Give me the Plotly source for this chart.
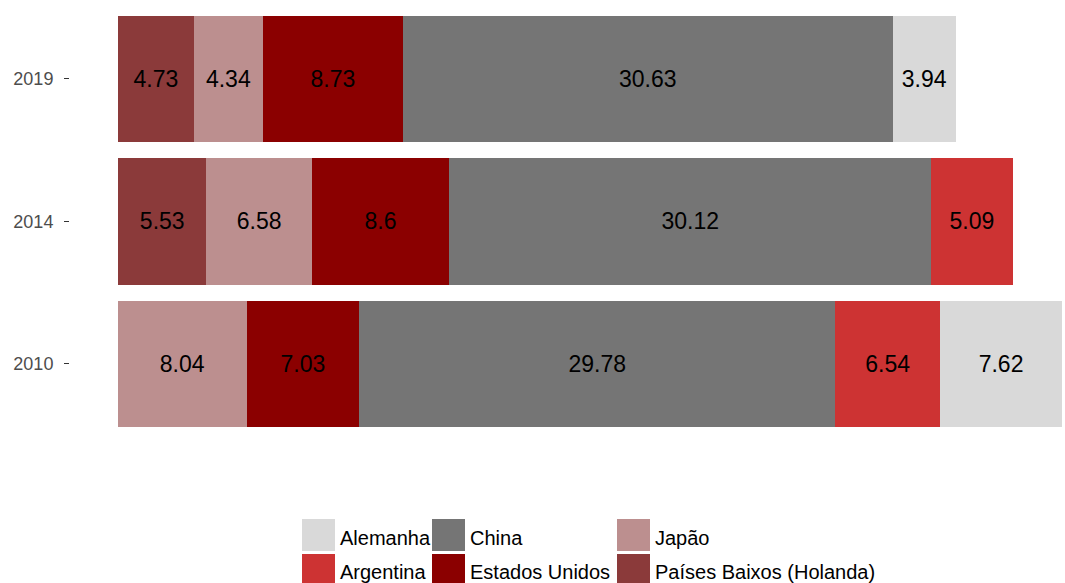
import plotly.graph_objects as go

years = ["2010", "2014", "2019"]
countries = ["Países Baixos (Holanda)", "Japão", "Estados Unidos", "China", "Argentina", "Alemanha"]
values = {
    "Países Baixos (Holanda)": [None, 5.53, 4.73],
    "Japão": [8.04, 6.58, 4.34],
    "Estados Unidos": [7.03, 8.6, 8.73],
    "China": [29.78, 30.12, 30.63],
    "Argentina": [6.54, 5.09, None],
    "Alemanha": [7.62, None, 3.94],
}
colors = {
    "Alemanha": "#d9d9d9",
    "Argentina": "#cd3333",
    "China": "#757575",
    "Estados Unidos": "#8b0000",
    "Japão": "#bc8f8f",
    "Países Baixos (Holanda)": "#8b3a3a",
}
legend_cols = [["Alemanha", "Argentina"], ["China", "Estados Unidos"], ["Japão", "Países Baixos (Holanda)"]]

FONT = "Liberation Sans, Arial, sans-serif"
W, H = 1065, 583
ML, MR, MT = 70, 3, 7
PH = 435
MB = H - MT - PH

fig = go.Figure()
for c in countries:
    vals = values[c]
    fig.add_trace(go.Bar(
        y=years, x=vals, orientation="h", name=c,
        marker=dict(color=colors[c], line=dict(width=0)),
        text=[("%g" % v) if v is not None else "" for v in vals],
        textposition="inside", insidetextanchor="middle",
        textfont=dict(size=23, color="black", family=FONT),
        constraintext="none", showlegend=False,
        hovertemplate=c + ": %{x}<extra></extra>",
    ))

total_max = max(sum(v for v in (values[c][i] for c in countries) if v is not None) for i in range(len(years)))

pw = W - ML - MR
def px2x(px):
    return (px - ML) / pw
def px2y(py):
    return (H - MB - py) / PH

shapes = []
annotations = []
col_x = [302, 432, 617]
row_y = [519, 554]
text_y = [538, 572]
for ci, col in enumerate(legend_cols):
    for ri, name in enumerate(col):
        x0, y0 = col_x[ci], row_y[ri]
        shapes.append(dict(type="rect", xref="paper", yref="paper",
                           x0=px2x(x0), x1=px2x(x0 + 33), y0=px2y(y0), y1=px2y(y0 + 32),
                           fillcolor=colors[name], line=dict(width=0), layer="above"))
        annotations.append(dict(xref="paper", yref="paper", x=px2x(x0 + 36), y=px2y(text_y[ri]),
                                text=name, showarrow=False, xanchor="left", yanchor="middle",
                                font=dict(size=20, color="black", family=FONT)))

fig.update_layout(
    width=W, height=H,
    margin=dict(l=ML, r=MR, t=MT, b=MB),
    barmode="stack", bargap=0.11,
    plot_bgcolor="white", paper_bgcolor="white",
    font=dict(family=FONT),
    shapes=shapes, annotations=annotations,
    xaxis=dict(range=[-48 / 15.997, total_max], showticklabels=False,
               showgrid=False, zeroline=False, showline=False, ticks=""),
    yaxis=dict(type="category", categoryorder="array", categoryarray=years,
               range=[-0.548, 2.505], showgrid=False, zeroline=False, showline=False,
               ticks="outside", ticklen=5, tickcolor="#333333", tickwidth=1,
               ticklabelstandoff=7,
               tickfont=dict(size=18, color="#4d4d4d", family=FONT)),
)
fig.write_html("out.html", config={"displayModeBar": False},
               post_script="document.body.style.margin='0';document.body.style.overflow='hidden';")
